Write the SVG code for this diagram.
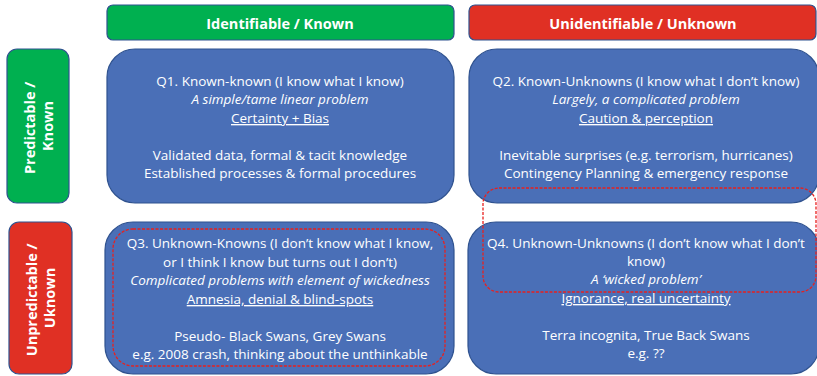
<svg xmlns="http://www.w3.org/2000/svg" width="817" height="376" viewBox="0 0 817 376">
  <style>
    .hdr { stroke: #2F528F; stroke-width: 1.2; }
    .green { fill: #00B050; }
    .red { fill: #E03024; }
    .quad { fill: #4A6FB7; stroke: #2F528F; stroke-width: 1.2; }
    .dash { fill: none; stroke: #E8201E; stroke-width: 1.3; stroke-dasharray: 3 1.5; }
    .lbl { font-family: "Open Sans", "Noto Sans", sans-serif; font-weight: bold; fill: #FFFFFF; font-size: 14.5px; text-anchor: middle; }
    .txt { font-family: "Open Sans", "Noto Sans", sans-serif; fill: #FFFFFF; font-size: 13.5px; text-anchor: middle; }
    .it { font-style: italic; }
    .ul { text-decoration: underline; }
  </style>

  <!-- column headers -->
  <g id="col-identifiable">
    <rect class="hdr green" x="107" y="5" width="347" height="35" rx="6"/>
    <text class="lbl" x="280" y="29">Identifiable / Known</text>
  </g>
  <g id="col-unidentifiable">
    <rect class="hdr red" x="469" y="5" width="347" height="35" rx="6"/>
    <text class="lbl" x="643" y="29">Unidentifiable / Unknown</text>
  </g>

  <!-- row headers -->
  <g id="row-predictable">
    <rect class="hdr green" x="7" y="49" width="62" height="154" rx="10"/>
    <text class="lbl" transform="translate(38,126) rotate(-90)">
      <tspan x="0" y="-3">Predictable /</tspan>
      <tspan x="0" y="15">Known</tspan>
    </text>
  </g>
  <g id="row-unpredictable">
    <rect class="hdr red" x="9" y="222" width="63" height="152" rx="10"/>
    <text class="lbl" transform="translate(40,298) rotate(-90)">
      <tspan x="0" y="-3">Unpredictable /</tspan>
      <tspan x="0" y="15">Uknown</tspan>
    </text>
  </g>

  <!-- quadrants -->
  <g id="q1">
    <rect class="quad" x="107" y="49" width="347" height="154" rx="28"/>
    <text class="txt" x="280" y="86">Q1. Known-known (I know what I know)</text>
    <text class="txt it" x="280" y="104">A simple/tame linear problem</text>
    <text class="txt ul" x="280" y="123">Certainty + Bias</text>
    <text class="txt" x="280" y="160">Validated data, formal &amp; tacit knowledge</text>
    <text class="txt" x="280" y="178">Established processes &amp; formal procedures</text>
  </g>
  <g id="q2">
    <rect class="quad" x="469" y="49" width="350" height="154" rx="28"/>
    <text class="txt" x="646" y="86">Q2. Known-Unknowns (I know what I don’t  know)</text>
    <text class="txt it" x="646" y="104">Largely, a complicated problem</text>
    <text class="txt ul" x="646" y="123">Caution &amp; perception</text>
    <text class="txt" x="646" y="160">Inevitable surprises (e.g. terrorism, hurricanes)</text>
    <text class="txt" x="646" y="178">Contingency Planning &amp; emergency response</text>
  </g>
  <g id="q3">
    <rect class="quad" x="105" y="222" width="349" height="152" rx="28"/>
    <text class="txt" x="280" y="248">Q3. Unknown-Knowns (I don’t know what I know,</text>
    <text class="txt" x="280" y="267">or I think I know but turns out I don’t)</text>
    <text class="txt it" x="280" y="285">Complicated problems with element of wickedness</text>
    <text class="txt ul" x="280" y="304">Amnesia, denial &amp; blind-spots</text>
    <text class="txt" x="280" y="341">Pseudo- Black Swans, Grey Swans</text>
    <text class="txt" x="280" y="359">e.g. 2008 crash, thinking about the unthinkable</text>
  </g>
  <g id="q4">
    <rect class="quad" x="468" y="222" width="351" height="152" rx="28"/>
    <text class="txt" x="646" y="248">Q4. Unknown-Unknowns (I don’t know what I don’t</text>
    <text class="txt" x="646" y="266">know)</text>
    <text class="txt it" x="646" y="284">A ‘wicked problem’</text>
    <text class="txt ul" x="646" y="303">Ignorance, real uncertainty</text>
    <text class="txt" x="646" y="340">Terra incognita, True Back Swans</text>
    <text class="txt" x="646" y="358">e.g. ??</text>
  </g>

  <!-- dashed highlight outlines -->
  <g id="highlights">
    <rect class="dash" x="113" y="229" width="332" height="137" rx="20"/>
    <rect class="dash" x="483" y="188" width="333" height="104" rx="16"/>
  </g>
</svg>
